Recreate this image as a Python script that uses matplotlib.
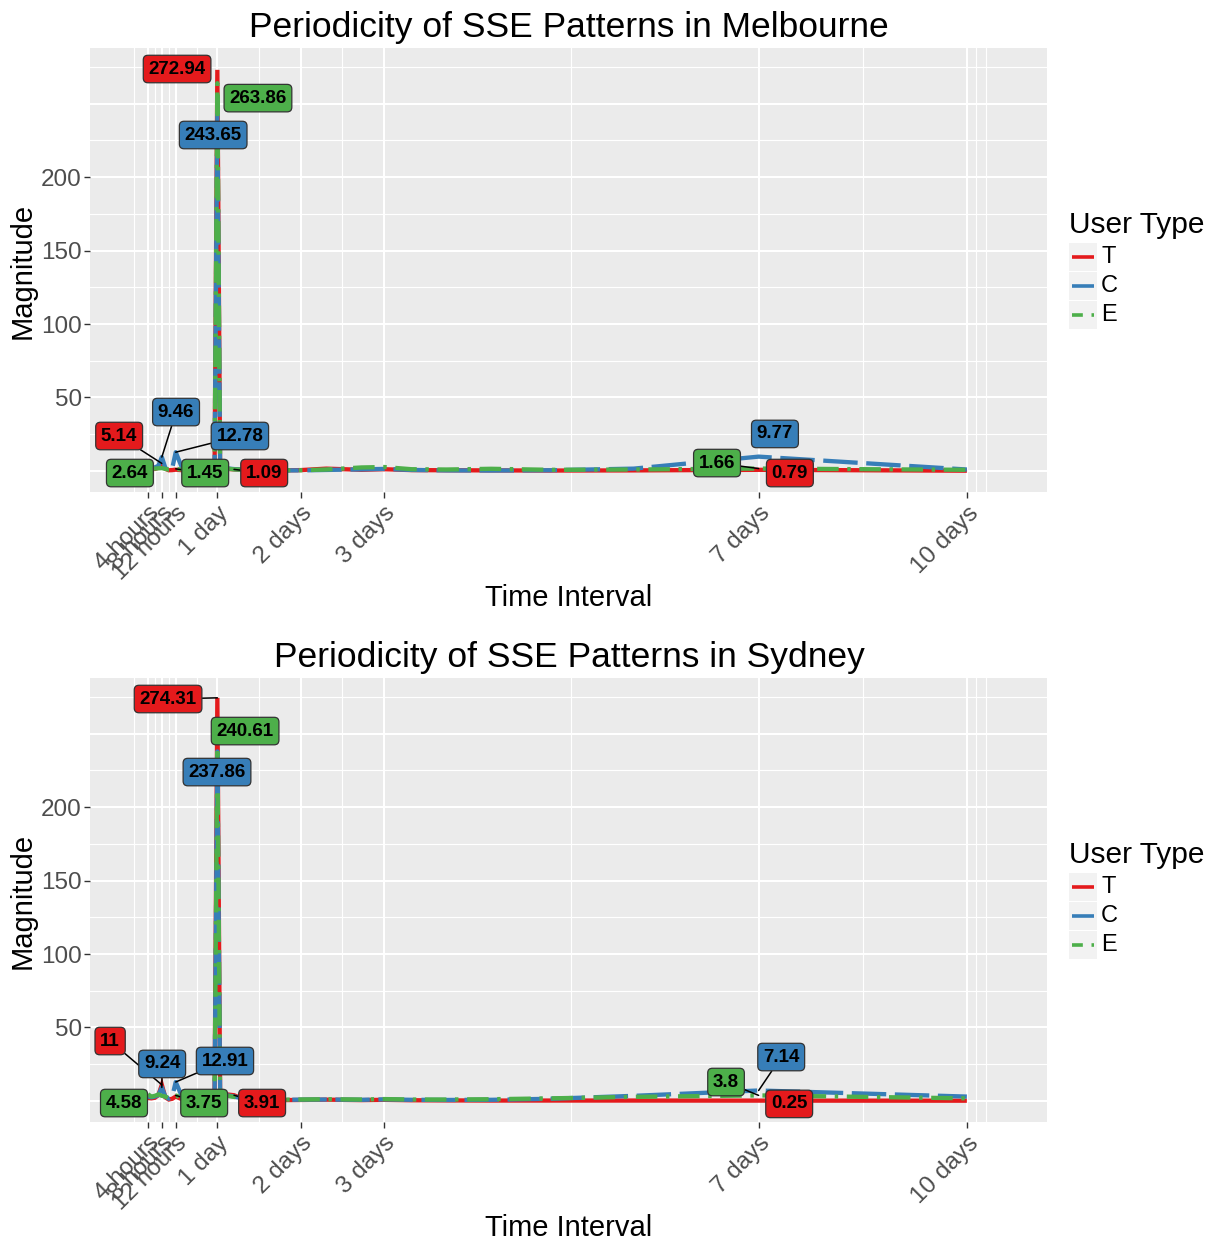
import matplotlib
matplotlib.use("Agg")
import matplotlib.pyplot as plt
from matplotlib.lines import Line2D
from matplotlib.patches import Rectangle
from matplotlib.transforms import ScaledTranslation

plt.rcParams["font.family"] = ["Liberation Sans", "DejaVu Sans"]

# ---------------------------------------------------------------- data
# period of each spectral component, in hours
periods = [4, 5, 6, 7, 8, 9, 10, 11, 12, 14, 16, 18, 20, 22, 23.2, 24, 24.8,
           26.7, 28.8, 31.3, 34.3, 37.9, 42.4, 48, 55.4, 65.5, 72, 80, 90,
           102.9, 120, 144, 180, 240]

melb_T = [1.2, 1.0, 1.4, 2.2, 5.14, 1.5, 0.5, 0.6, 0.9, 0.5, 0.4, 0.5, 0.4,
          0.6, 1.2, 272.94, 1.8, 1.4, 1.09, 0.8, 0.7, 0.5, 0.4, 0.6, 1.6, 0.8,
          1.2, 0.6, 0.5, 0.4, 0.3, 0.4, 0.79, 0.2]
melb_C = [1.0, 1.3, 2.5, 3.5, 9.46, 2.2, 0.3, 1.8, 12.78, 1.2, 0.6, 0.5, 0.7,
          1.0, 2.2, 243.65, 2.6, 1.8, 1.3, 0.9, 0.6, 0.5, 0.4, 0.4, 0.7, 1.1,
          1.4, 0.7, 0.4, 0.3, 0.5, 1.6, 9.77, 1.0]
melb_E = [2.64, 1.5, 1.6, 1.8, 2.0, 1.4, 0.9, 1.1, 1.45, 0.8, 0.5, 0.6, 0.7,
          0.9, 1.8, 263.86, 2.2, 1.6, 1.1, 0.9, 0.7, 0.6, 0.5, 0.5, 1.0, 2.4,
          2.7, 1.2, 1.0, 1.5, 0.8, 1.0, 1.66, 0.8]

syd_T = [2.0, 1.8, 2.2, 4.0, 11.0, 2.5, 1.0, 1.5, 3.0, 1.0, 0.8, 0.9, 1.0,
         1.4, 3.0, 274.31, 5.0, 4.5, 3.91, 1.5, 0.9, 0.7, 0.6, 0.7, 0.9, 0.6,
         0.8, 0.5, 0.4, 0.3, 0.3, 0.3, 0.25, 0.2]
syd_C = [3.0, 2.5, 3.0, 4.0, 9.24, 3.0, 1.5, 3.0, 12.91, 2.0, 1.2, 1.0, 1.2,
         1.8, 4.0, 237.86, 5.5, 4.0, 3.0, 1.8, 1.2, 0.9, 0.8, 0.9, 1.0, 0.8,
         1.1, 0.8, 0.7, 0.8, 1.5, 3.5, 7.14, 3.0]
syd_E = [4.58, 3.0, 3.5, 4.5, 3.5, 3.0, 2.0, 3.5, 3.75, 2.0, 1.5, 1.4, 1.5,
         2.0, 4.0, 240.61, 4.5, 3.5, 2.8, 1.8, 1.2, 1.0, 0.9, 1.0, 1.2, 1.0,
         1.3, 1.0, 1.0, 1.2, 1.8, 2.8, 3.8, 1.8]

user_types = ["T", "C", "E"]
cities = ["Melbourne", "Sydney"]
series = {
    "Melbourne": {"T": melb_T, "C": melb_C, "E": melb_E},
    "Sydney": {"T": syd_T, "C": syd_C, "E": syd_E},
}

tick_hours = [4, 8, 12, 24, 48, 72, 180, 240]
tick_labels = ["4 hours", "8 hours", "12 hours", "1 day", "2 days", "3 days",
               "7 days", "10 days"]
minor_hours = [0, 6, 10, 18, 36, 60, 126, 210, 242.5, 245.5]
y_ticks = [50, 100, 150, 200]

# labelled peaks: (user type, period) per city
labelled = {
    "Melbourne": [("T", 24), ("E", 24), ("C", 24), ("T", 8), ("C", 8),
                  ("C", 12), ("E", 4), ("E", 12), ("T", 28.8), ("C", 180),
                  ("E", 180), ("T", 180)],
    "Sydney": [("T", 24), ("E", 24), ("C", 24), ("T", 8), ("C", 8),
               ("C", 12), ("E", 4), ("E", 12), ("T", 28.8), ("C", 180),
               ("E", 180), ("T", 180)],
}

# ------------------------------------------------------------- styling
colors = {"T": "#E41A1C", "C": "#377EB8", "E": "#4DAF4A"}
dash_styles = {"T": None, "C": (8, 2), "E": (5, 2, 0.8, 2)}
legend_dashes = {"T": None, "C": None, "E": (3, 2.4, 0.8, 2.4)}

# label box placement (data coords) and whether a leader segment is drawn
label_layout = {
    "Melbourne": [(12.4, 273.5, False), (35.7, 253.7, False),
                  (22.8, 228.6, False), (-4.3, 23.8, True),
                  (12.1, 40.1, True), (30.5, 23.8, True),
                  (-1.2, -1.4, False), (20.5, -1.4, True),
                  (37.5, -1.4, True), (184.7, 25.2, False),
                  (168.0, 5.4, True), (189.0, -1.4, False)],
    "Sydney": [(9.8, 273.5, True), (32.0, 251.7, False),
               (23.9, 223.8, False), (-6.9, 40.8, True),
               (8.1, 25.2, True), (26.2, 27.2, True),
               (-2.9, -1.4, False), (20.2, -1.4, True),
               (36.9, -1.4, True), (186.5, 29.9, True),
               (170.6, 12.9, True), (188.8, -2.0, False)],
}

W, H = 1212, 1243
fig = plt.figure(figsize=(W / 100, H / 100), dpi=100)


def fx(px):
    return px / W


def fy(py):
    return 1 - py / H


PANEL_L, PANEL_R = 90, 1047
PANEL_TOP = [48, 678]
PANEL_H = 444
X_LIM = (-12.7, 263.1)
Y_LIM = (-14.3, 287.8)

for k, city in enumerate(cities):
    dy = 630 * k
    top = PANEL_TOP[k]
    ax = fig.add_axes([fx(PANEL_L), fy(top + PANEL_H),
                       (PANEL_R - PANEL_L) / W, PANEL_H / H])
    ax.set_facecolor("#EBEBEB")
    for s in ax.spines.values():
        s.set_visible(False)
    ax.set_xlim(*X_LIM)
    ax.set_ylim(*Y_LIM)

    # grid
    for h in minor_hours:
        ax.axvline(h, color="white", lw=0.8, zorder=0.5)
    for h in tick_hours:
        ax.axvline(h, color="white", lw=1.5, zorder=0.6)
    for v in range(25, 300, 50):
        ax.axhline(v, color="white", lw=0.8, zorder=0.5)
    for v in range(0, 300, 50):
        ax.axhline(v, color="white", lw=1.5, zorder=0.6)

    # lines
    for ut in user_types:
        kw = dict(color=colors[ut], lw=3.1, zorder=2,
                  solid_capstyle="butt", dash_capstyle="butt",
                  solid_joinstyle="miter")
        if dash_styles[ut] is not None:
            kw["dashes"] = dash_styles[ut]
        ax.plot(periods, series[city][ut], **kw)

    # value labels
    for (ut, p), (lx, ly, leader) in zip(labelled[city], label_layout[city]):
        v = series[city][ut][periods.index(p)]
        arrow = None
        if leader:
            arrow = dict(arrowstyle="-", color="black", lw=1.1,
                         shrinkA=0, shrinkB=0)
        ax.annotate(f"{v:g}", xy=(p, v), xytext=(lx, ly),
                    textcoords="data", ha="center", va="center",
                    fontsize=13.5, fontweight="bold", color="black",
                    bbox=dict(boxstyle="round,pad=0.28,rounding_size=0.25",
                              fc=colors[ut], ec="#333333", lw=0.9),
                    arrowprops=arrow, zorder=5, annotation_clip=False)

    # axes ticks; x tick labels are placed as rotated texts under each tick
    ax.set_xticks(tick_hours)
    ax.set_xticklabels([])
    ax.set_yticks(y_ticks)
    ax.set_yticklabels([str(t) for t in y_ticks])
    ax.tick_params(axis="both", color="#333333", length=4, width=1,
                   labelcolor="#4D4D4D", labelsize=17.5)
    ax.tick_params(axis="y", pad=2)
    lab_tr = ax.get_xaxis_transform() + ScaledTranslation(
        8 / 100, -18 / 100, fig.dpi_scale_trans)
    for h, lab in zip(tick_hours, tick_labels):
        ax.text(h, 0, lab, transform=lab_tr, rotation=45, ha="right",
                va="center", rotation_mode="anchor", fontsize=17.5,
                color="#4D4D4D", clip_on=False)

    # titles
    fig.text(fx(569), fy(27 + dy), f"Periodicity of SSE Patterns in {city}",
             ha="center", va="center", fontsize=25.5, color="black")
    fig.text(fx(569), fy(598 + dy), "Time Interval", ha="center",
             va="center", fontsize=21, color="black")
    fig.text(fx(23), fy(271 + dy), "Magnitude", ha="center", va="center",
             rotation=90, fontsize=21, color="black")

    # legend
    fig.text(fx(1069), fy(225 + dy), "User Type", ha="left", va="center",
             fontsize=21.5, color="black")
    for i, ut in enumerate(user_types):
        yc = 257 + 29 * i + dy
        fig.add_artist(Rectangle((fx(1069), fy(yc + 14)), 28 / W, 28 / H,
                                 transform=fig.transFigure, fc="#F2F2F2",
                                 ec="none"))
        kw = dict(color=colors[ut], lw=2.6, transform=fig.transFigure,
                  solid_capstyle="butt", dash_capstyle="butt")
        if legend_dashes[ut] is not None:
            kw["dashes"] = legend_dashes[ut]
        fig.add_artist(Line2D([fx(1072), fx(1094)], [fy(yc), fy(yc)], **kw))
        fig.text(fx(1101), fy(yc), ut, ha="left", va="center", fontsize=17,
                 color="black")

fig.savefig("out.png", dpi=100)
